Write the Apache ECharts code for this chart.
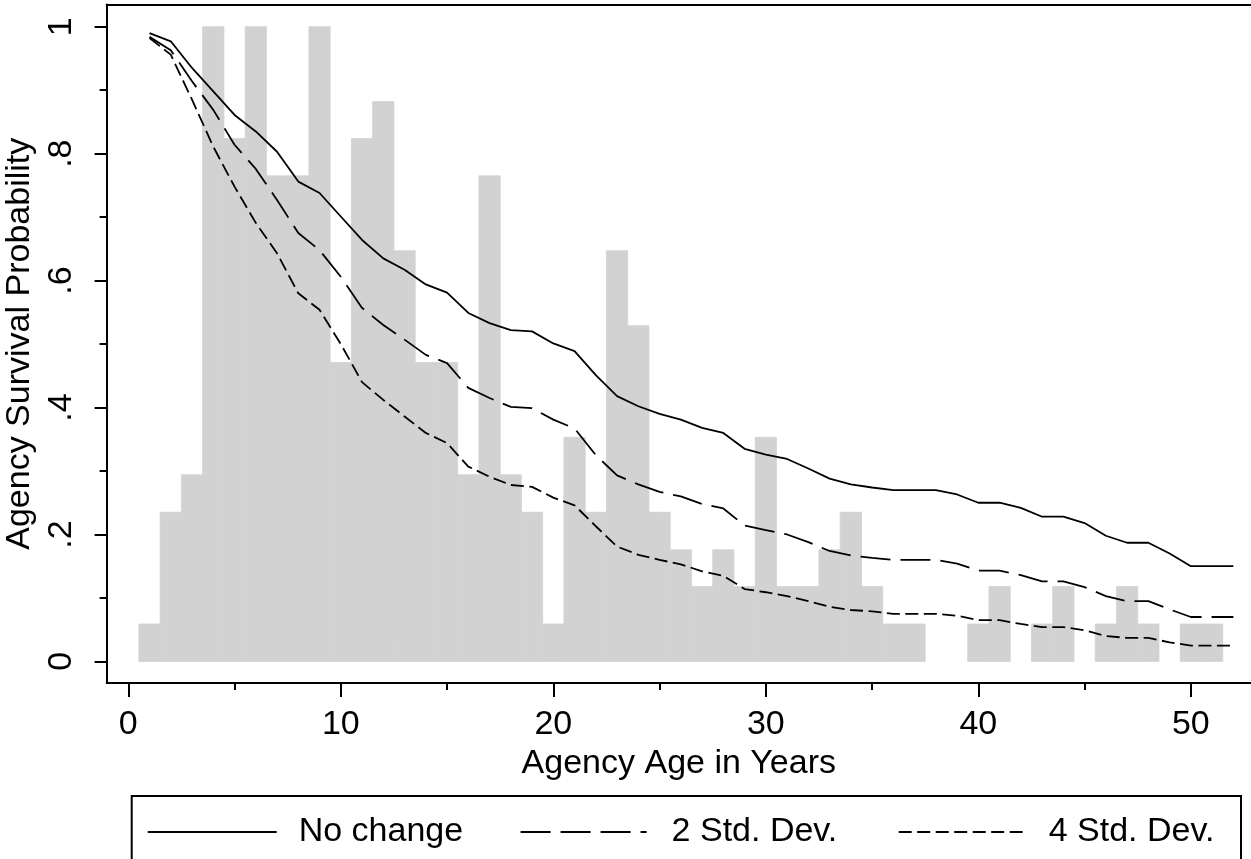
<!DOCTYPE html>
<html>
<head>
<meta charset="utf-8">
<script src="https://cdn.jsdelivr.net/npm/echarts@6.0.0/dist/echarts.min.js"></script>
<style>
html,body{margin:0;padding:0;background:#fff;}
#chart{width:1251px;height:859px;}
</style>
</head>
<body>
<div id="chart"></div>
<script>
// ---- data ----
const ages = [1,2,3,4,5,6,7,8,9,10,11,12,13,14,15,16,17,18,19,20,21,22,23,24,25,26,27,28,29,30,31,32,33,34,35,36,37,38,39,40,41,42,43,44,45,46,47,48,49,50,51,52];
const noChange = [.990,.977,.935,.898,.861,.835,.803,.756,.738,.701,
                  .664,.635,.617,.594,.581,.549,.533,.522,.520,.501,
                  .489,.451,.418,.402,.390,.381,.368,.360,.335,.326,
                  .319,.304,.288,.279,.274,.270,.270,.270,.263,.250,
                  .250,.242,.228,.228,.218,.198,.187,.187,.170,.150,
                  .150,.150];
const sd2 = [.984,.963,.914,.869,.814,.776,.727,.675,.648,.606,
             .557,.530,.507,.483,.470,.431,.415,.401,.399,.381,
             .367,.325,.293,.279,.267,.260,.248,.241,.214,.207,
             .200,.188,.174,.167,.163,.160,.160,.160,.154,.143,
             .143,.136,.126,.126,.117,.103,.095,.095,.082,.070,
             .070,.070];
const sd4 = [.982,.956,.885,.811,.748,.691,.643,.580,.554,.500,
             .440,.412,.386,.360,.344,.307,.291,.278,.275,.258,
             .246,.213,.181,.168,.160,.153,.142,.135,.114,.109,
             .103,.095,.086,.081,.079,.075,.075,.075,.072,.065,
             .065,.059,.054,.054,.049,.040,.037,.037,.030,.025,
             .025,.025];
// histogram: bin centres and scaled heights
const histBins = [1,2,3,4,5,6,7,8,9,10,11,12,13,14,15,16,17,18,19,20,21,22,23,24,25,26,27,28,29,30,31,32,33,34,35,36,37,38,39,40,41,42,43,44,45,46,47,48,49,50,51];
const histHeights = [.059,.235,.294,1,.824,1,.765,.765,1,.471,
                     .824,.882,.647,.471,.471,.294,.765,.294,.235,.059,
                     .353,.235,.647,.529,.235,.176,.118,.176,.118,.353,
                     .118,.118,.176,.235,.118,.059,.059,0,0,.059,
                     .118,0,.059,.118,0,.059,.118,.059,0,.059,.059];
const xMajorTicks = [0,10,20,30,40,50];
const xMinorTicks = [5,15,25,35,45];
const yMajorTicks = [0,.2,.4,.6,.8,1];
const yMinorTicks = [.1,.3,.5,.7,.9];
const yTickLabels = {0:'0',0.2:'.2',0.4:'.4',0.6:'.6',0.8:'.8',1:'1'};
const seriesNames = ['No change','2 Std. Dev.','4 Std. Dev.'];

// ---- chart ----
const FONT = "'Liberation Sans', Arial, sans-serif";
const X_MIN = -1.02, X_MAX = 52.83, Y_MIN = -0.034, Y_MAX = 1.035;
const chart = echarts.init(document.getElementById('chart'), null, {renderer:'canvas'});
const pairs = (xs, ys) => xs.map((x,i)=>[x, ys[i]]);

const axLine = {show:true, onZero:false, lineStyle:{color:'#000', width:2}};
const noLine = {show:false, onZero:false};
const xBase = {type:'value', min:X_MIN, max:X_MAX, position:'bottom', splitLine:{show:false}, axisLine:noLine};
const yBase = {type:'value', min:Y_MIN, max:Y_MAX, position:'left', splitLine:{show:false}, axisLine:noLine};

const option = {
  backgroundColor:'#fff',
  animation:false,
  grid:{left:106.6, top:4.5, right:0, bottom:176, show:false, containLabel:false, outerBoundsMode:'none'},
  xAxis:[
    Object.assign({}, xBase, {
      axisLine:axLine,
      name:'Agency Age in Years', nameLocation:'middle', nameGap:57,
      nameTextStyle:{fontFamily:FONT, fontSize:34, color:'#000'},
      axisTick:{show:true, length:14, lineStyle:{color:'#000', width:2}, customValues:xMajorTicks},
      axisLabel:{show:true, margin:25, fontFamily:FONT, fontSize:34, color:'#000', customValues:xMajorTicks}
    }),
    Object.assign({}, xBase, {
      axisTick:{show:true, length:7, lineStyle:{color:'#000', width:2}, customValues:xMinorTicks},
      axisLabel:{show:false}
    }),
    Object.assign({}, xBase, {
      position:'top', axisLine:axLine, axisTick:{show:false}, axisLabel:{show:false}
    })
  ],
  yAxis:[
    Object.assign({}, yBase, {
      axisLine:axLine,
      name:'Agency Survival Probability', nameLocation:'middle', nameGap:52,
      nameTextStyle:{fontFamily:FONT, fontSize:34, color:'#000'},
      axisTick:{show:true, length:12, lineStyle:{color:'#000', width:2}, customValues:yMajorTicks},
      axisLabel:{show:true, rotate:90, margin:28, fontFamily:FONT, fontSize:34, color:'#000',
                 customValues:yMajorTicks, formatter:v=>yTickLabels[Math.round(v*10)/10]}
    }),
    Object.assign({}, yBase, {
      axisTick:{show:true, length:7, lineStyle:{color:'#000', width:2}, customValues:yMinorTicks},
      axisLabel:{show:false}
    })
  ],
  legend:[
    {data:[seriesNames[0]], left:146.7, top:812, padding:0, itemWidth:129, itemHeight:14,
     itemStyle:{color:'rgba(0,0,0,0)', borderWidth:0, opacity:0},
     textStyle:{fontFamily:FONT, fontSize:34, color:'#000', lineHeight:40, padding:[0,0,0,17]}},
    {data:[seriesNames[1]], left:519.6, top:812, padding:0, itemWidth:126, itemHeight:14,
     itemStyle:{color:'rgba(0,0,0,0)', borderWidth:0, opacity:0},
     textStyle:{fontFamily:FONT, fontSize:34, color:'#000', lineHeight:40, padding:[0,0,0,20]}},
    {data:[seriesNames[2]], left:897.7, top:812, padding:0, itemWidth:127, itemHeight:14,
     itemStyle:{color:'rgba(0,0,0,0)', borderWidth:0, opacity:0},
     textStyle:{fontFamily:FONT, fontSize:34, color:'#000', lineHeight:40, padding:[0,0,0,18]}}
  ],
  graphic:[
    {type:'rect', shape:{x:131.7, y:796, width:1109.3, height:100}, style:{fill:'none', stroke:'#000', lineWidth:2}, z:-1}
  ],
  series:[
    {
      type:'custom', name:'hist', xAxisIndex:0, yAxisIndex:0,
      data: pairs(histBins, histHeights),
      encode:{x:0, y:1},
      renderItem:(params, api)=>{
        const x = api.value(0), h = api.value(1);
        if (!h) return null;
        const p1 = api.coord([x-0.5, h]);
        const p2 = api.coord([x+0.5, 0]);
        return {type:'rect', shape:{x:p1[0], y:p1[1], width:p2[0]-p1[0], height:p2[1]-p1[1]},
                style:{fill:'#d2d2d2', stroke:'#d2d2d2', lineWidth:0.8}};
      },
      z:1
    },
    {type:'line', name:seriesNames[0], data:pairs(ages,noChange), symbol:'none', smooth:false,
     lineStyle:{color:'#000', width:1.8, type:'solid'}, itemStyle:{color:'#000'}, z:3},
    {type:'line', name:seriesNames[1], data:pairs(ages,sd2), symbol:'none', smooth:false,
     lineStyle:{color:'#000', width:1.8, type:[30,10]}, itemStyle:{color:'#000'}, z:3},
    {type:'line', name:seriesNames[2], data:pairs(ages,sd4), symbol:'none', smooth:false,
     lineStyle:{color:'#000', width:1.8, type:[13,5.5]}, itemStyle:{color:'#000'}, z:3}
  ]
};
chart.setOption(option);
</script>
</body>
</html>
